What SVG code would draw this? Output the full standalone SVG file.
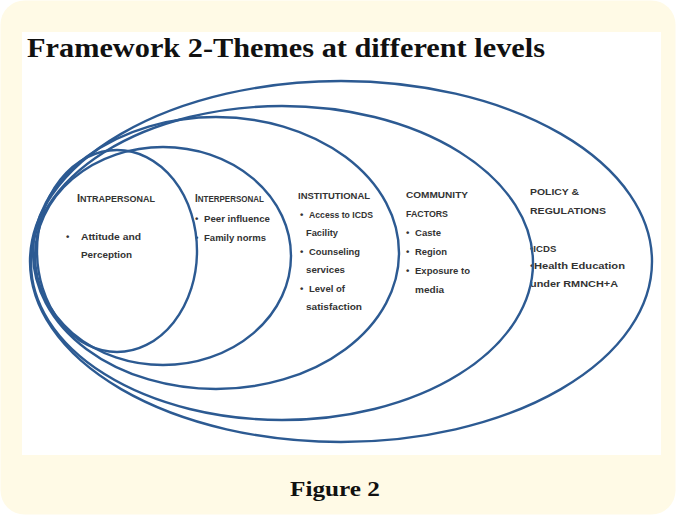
<svg xmlns="http://www.w3.org/2000/svg" width="676" height="515" viewBox="0 0 676 515">
<style>
.ring{fill:none;stroke:#2C5A92;stroke-width:2.4}
.t{font-family:"Liberation Sans",Arial,sans-serif;font-weight:bold;font-size:9.6px;fill:#333}
.h{font-family:"Liberation Sans",Arial,sans-serif;font-weight:bold;font-size:8.6px;fill:#333}
.hb{font-size:10.6px}
.title{font-family:"Liberation Serif","DejaVu Serif",serif;font-weight:bold;font-size:27px;fill:#111}
</style>
<rect x="0" y="0" width="676" height="515" fill="#ffffff"/>
<rect x="0.5" y="0.5" width="675" height="514" rx="24" fill="#FFFAE6"/>
<rect x="22" y="32" width="639" height="423" fill="#ffffff"/>
<text class="title" x="27" y="57" textLength="518" lengthAdjust="spacingAndGlyphs">Framework 2-Themes at different levels</text>

<g id="policy">
<ellipse class="ring" cx="341" cy="261.5" rx="311" ry="180.5"/>
<text class="h" x="530" y="195" textLength="49" lengthAdjust="spacingAndGlyphs">POLICY &amp;</text>
<text class="h" x="530" y="214" textLength="76" lengthAdjust="spacingAndGlyphs">REGULATIONS</text>
<text class="t" x="530" y="252">•ICDS</text>
<text class="t" x="530" y="269" textLength="95" lengthAdjust="spacingAndGlyphs">•Health Education</text>
<text class="t" x="530" y="287" textLength="88" lengthAdjust="spacingAndGlyphs">under RMNCH+A</text>
</g>

<g id="community">
<ellipse class="ring" cx="282" cy="263" rx="251" ry="157"/>
<text class="h" x="406" y="198" textLength="62" lengthAdjust="spacingAndGlyphs">COMMUNITY</text>
<text class="h" x="406" y="217" textLength="42" lengthAdjust="spacingAndGlyphs">FACTORS</text>
<text class="t" x="406" y="236">•</text>
<text class="t" x="415" y="236" textLength="26" lengthAdjust="spacingAndGlyphs">Caste</text>
<text class="t" x="406" y="255">•</text>
<text class="t" x="415" y="255" textLength="32" lengthAdjust="spacingAndGlyphs">Region</text>
<text class="t" x="406" y="274">•</text>
<text class="t" x="415" y="274" textLength="55" lengthAdjust="spacingAndGlyphs">Exposure to</text>
<text class="t" x="415" y="293" textLength="29" lengthAdjust="spacingAndGlyphs">media</text>
</g>

<g id="institutional">
<ellipse class="ring" cx="216" cy="253" rx="183" ry="136"/>
<text class="h" x="298" y="199" textLength="72" lengthAdjust="spacingAndGlyphs">INSTITUTIONAL</text>
<text class="t" x="300" y="218">•</text>
<text class="t" x="309" y="218" textLength="64" lengthAdjust="spacingAndGlyphs">Access to ICDS</text>
<text class="t" x="306" y="236" textLength="32" lengthAdjust="spacingAndGlyphs">Facility</text>
<text class="t" x="300" y="255">•</text>
<text class="t" x="309" y="255" textLength="51" lengthAdjust="spacingAndGlyphs">Counseling</text>
<text class="t" x="306" y="273" textLength="39" lengthAdjust="spacingAndGlyphs">services</text>
<text class="t" x="300" y="292">•</text>
<text class="t" x="309" y="292" textLength="36" lengthAdjust="spacingAndGlyphs">Level of</text>
<text class="t" x="306" y="310" textLength="56" lengthAdjust="spacingAndGlyphs">satisfaction</text>
</g>

<g id="interpersonal">
<ellipse class="ring" cx="163" cy="256" rx="128" ry="109"/>
<text class="h" x="195" y="202" textLength="69" lengthAdjust="spacingAndGlyphs"><tspan class="hb">I</tspan>NTERPERSONAL</text>
<text class="t" x="195" y="222">•</text>
<text class="t" x="204" y="222" textLength="66" lengthAdjust="spacingAndGlyphs">Peer influence</text>
<text class="t" x="195" y="241">•</text>
<text class="t" x="204" y="241" textLength="62" lengthAdjust="spacingAndGlyphs">Family norms</text>
</g>

<g id="intrapersonal">
<ellipse class="ring" cx="117" cy="251" rx="80" ry="101"/>
<text class="h" x="77" y="202" textLength="78" lengthAdjust="spacingAndGlyphs"><tspan class="hb">I</tspan>NTRAPERSONAL</text>
<text class="t" x="66" y="240">•</text>
<text class="t" x="81" y="240" textLength="60" lengthAdjust="spacingAndGlyphs">Attitude and</text>
<text class="t" x="81" y="258" textLength="51" lengthAdjust="spacingAndGlyphs">Perception</text>
</g>

<text class="title" x="290" y="496" style="font-size:22px" textLength="90" lengthAdjust="spacingAndGlyphs">Figure 2</text>
</svg>
